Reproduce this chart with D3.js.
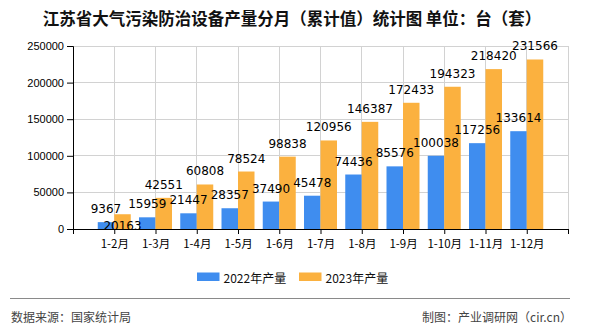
<!DOCTYPE html>
<html><head><meta charset="utf-8">
<script src="https://cdn.jsdelivr.net/npm/d3@7"></script>
<style>body{margin:0;background:#fff;}svg{display:block;}</style>
</head><body>
<svg id="c" width="590" height="330"></svg>
<script>
const categories = ["1-2月","1-3月","1-4月","1-5月","1-6月","1-7月","1-8月","1-9月","1-10月","1-11月","1-12月"];
const values2022 = [9367,15959,21447,28357,37490,45478,74436,85576,100038,117256,133614];
const values2023 = [20163,42551,60808,78524,98838,120956,146387,172433,194323,218420,231566];
const yTicks = [0,50000,100000,150000,200000,250000];
const seriesNames = ["2022年产量","2023年产量"];
const colors = ["#3f8def","#fbb13f"];

const svg = d3.select("#c");
const L = 73, R = 568, T = 46, B = 229;
const x = d3.scalePoint().domain(["_s", ...categories, "_e"]).range([L, R]).padding(0);
const y = d3.scaleLinear().domain([0, 250000]).range([B, T]);
const step = x.step(), bw = step * 0.4;

svg.append("text").attr("x", 292).attr("y", 18).attr("text-anchor", "middle")
  .attr("dominant-baseline", "central")
  .style("font", "bold 16.5px 'Noto Sans CJK SC'").attr("fill", "#111")
  .text("江苏省大气污染防治设备产量分月（累计值）统计图 单位：台（套）");

// grid
const g = svg.append("g");
g.selectAll(".hg").data(yTicks.filter(d => d > 0)).join("line")
  .attr("x1", L).attr("x2", R).attr("y1", d => y(d)).attr("y2", d => y(d))
  .attr("stroke", "#d2d2d2").attr("stroke-width", 1).attr("shape-rendering", "crispEdges");
g.selectAll(".vg").data([...categories, "_e"]).join("line")
  .attr("x1", d => x(d)).attr("x2", d => x(d)).attr("y1", T).attr("y2", B)
  .attr("stroke", "#d2d2d2").attr("stroke-width", 1).attr("shape-rendering", "crispEdges");

// bars
const rows = categories.map((c, i) => ({c, a: values2022[i], b: values2023[i]}));
svg.append("g").selectAll("rect").data(rows).join("rect")
  .attr("x", d => x(d.c) - bw).attr("width", bw)
  .attr("y", d => y(d.a)).attr("height", d => B - y(d.a)).attr("fill", colors[0]);
svg.append("g").selectAll("rect").data(rows).join("rect")
  .attr("x", d => x(d.c)).attr("width", bw)
  .attr("y", d => y(d.b)).attr("height", d => B - y(d.b)).attr("fill", colors[1]);

// axes
const yAxis = svg.append("g").attr("transform", `translate(${L},0)`)
  .call(d3.axisLeft(y).tickValues(yTicks).tickFormat(d3.format("d")).tickSizeOuter(0).tickSize(6).tickPadding(3));
const xAxis = svg.append("g").attr("transform", `translate(0,${B})`)
  .call(d3.axisBottom(x).tickValues(["_s", ...categories, "_e"]).tickFormat(d => d.startsWith("_") ? "" : d).tickSizeOuter(0).tickSize(5).tickPadding(6));
[yAxis, xAxis].forEach(a => {
  a.select(".domain").attr("stroke", "#000");
  a.selectAll(".tick line").attr("stroke", "#000");
  a.selectAll("text").attr("fill", "#000").style("font", "11px 'Liberation Sans'");
});
xAxis.selectAll("text").style("font", "11.5px 'Noto Sans CJK SC'");

// value labels
const lf = "12px 'DejaVu Sans'";
svg.append("g").selectAll("text").data(rows).join("text")
  .attr("x", d => x(d.c) - bw / 2).attr("y", d => y(d.a) - 13)
  .attr("text-anchor", "middle").attr("dominant-baseline", "central")
  .style("font", lf).attr("fill", "#000").text(d => d.a);
svg.append("g").selectAll("text").data(rows).join("text")
  .attr("x", d => x(d.c) + bw / 2)
  .attr("y", d => {
    const ya = y(d.a) - 13, yb = y(d.b) - 13;
    return Math.abs(ya - yb) < 14 ? ya + 17 : yb;
  })
  .attr("text-anchor", "middle").attr("dominant-baseline", "central")
  .style("font", lf).attr("fill", "#000").text(d => d.b);

// legend
const leg = svg.append("g");
const legX = [197, 299];
seriesNames.forEach((n, i) => {
  leg.append("rect").attr("x", legX[i]).attr("y", 272.5).attr("width", 22.5).attr("height", 8.5).attr("fill", colors[i]);
  leg.append("text").attr("x", legX[i] + 26.5).attr("y", 277).attr("dominant-baseline", "central")
    .style("font", "12px 'Noto Sans CJK SC'").attr("fill", "#111").text(n);
});

// footer
svg.append("line").attr("x1", 10).attr("x2", 570).attr("y1", 298.5).attr("y2", 298.5)
  .attr("stroke", "#8a8a8a").attr("stroke-width", 1.2);
svg.append("text").attr("x", 11).attr("y", 316).attr("dominant-baseline", "central")
  .style("font", "12px 'Noto Sans CJK SC'").attr("fill", "#444").text("数据来源：国家统计局");
svg.append("text").attr("x", 572).attr("y", 316).attr("text-anchor", "end").attr("dominant-baseline", "central")
  .style("font", "12px 'Noto Sans CJK SC'").attr("fill", "#444").text("制图：产业调研网（cir.cn）");
</script>
</body></html>
